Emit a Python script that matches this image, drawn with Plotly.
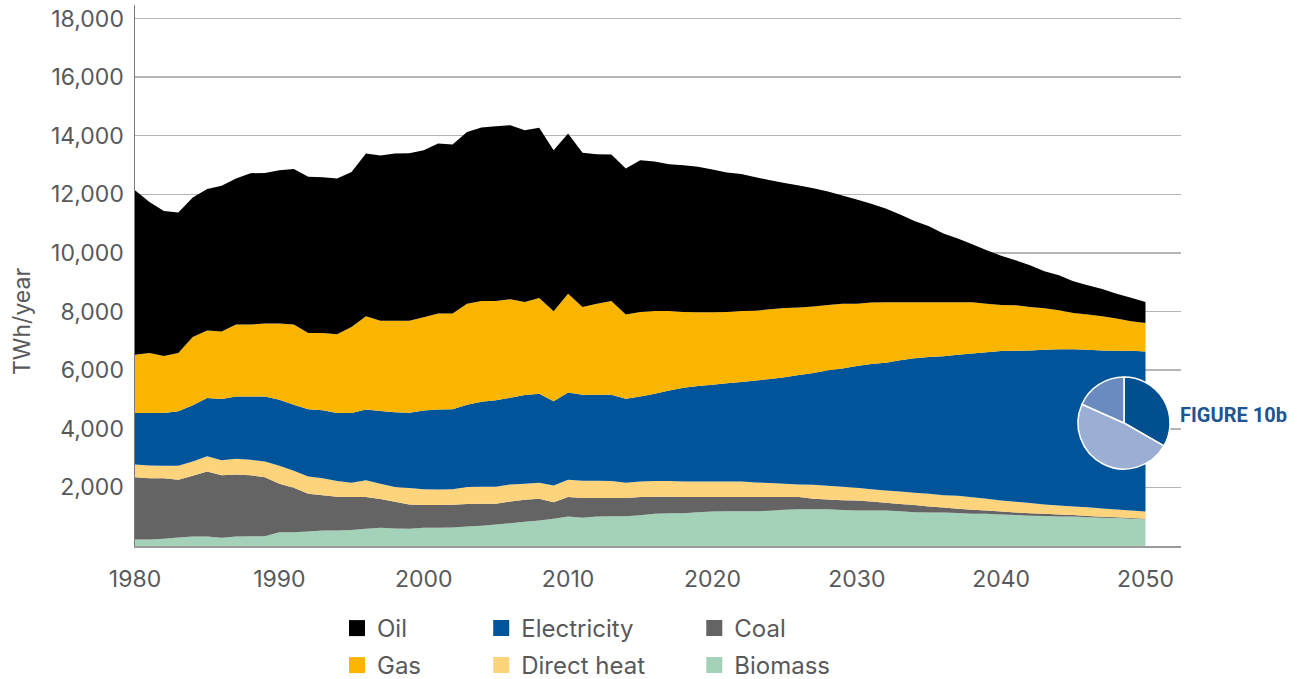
import plotly.graph_objects as go

years = list(range(1980, 2051))

biomass = [220, 220, 245, 290, 325, 325, 280, 325, 335, 335,
           470, 470, 495, 530, 530, 550, 585, 620, 600, 585,
           620, 620, 630, 665, 690, 735, 780, 825, 870, 930,
           1005, 960, 1005, 1015, 1015, 1050, 1100, 1120, 1120, 1155,
           1180, 1190, 1190, 1190, 1200, 1235, 1250, 1250, 1250, 1225,
           1210, 1210, 1210, 1190, 1155, 1145, 1140, 1130, 1100, 1100,
           1075, 1055, 1030, 1020, 1010, 1010, 985, 965, 955, 930,
           915]
coal = [2130, 2095, 2070, 1970, 2070, 2220, 2130, 2115, 2075, 2015,
        1655, 1515, 1285, 1205, 1150, 1120, 1085, 980, 910, 835,
        780, 780, 780, 765, 750, 705, 740, 750, 740, 565,
        665, 675, 630, 620, 620, 620, 580, 560, 550, 515,
        490, 480, 480, 480, 470, 435, 420, 360, 340, 340,
        345, 310, 265, 240, 240, 205, 170, 140, 135, 110,
        105, 90, 90, 80, 65, 45, 35, 35, 22, 25,
        15]
direct_heat = [435, 435, 425, 480, 490, 520, 520, 535, 530, 535,
               615, 580, 595, 580, 535, 490, 575, 525, 500, 555,
               540, 530, 530, 580, 580, 580, 580, 550, 550, 570,
               590, 590, 590, 580, 525, 535, 535, 535, 535, 535,
               535, 535, 535, 500, 480, 455, 430, 480, 465, 455,
               430, 420, 420, 430, 420, 430, 425, 445, 430, 400,
               375, 365, 345, 320, 310, 295, 305, 280, 268, 255,
               250]
electricity = [1750, 1785, 1795, 1855, 1915, 1985, 2085, 2130, 2165, 2220,
               2250, 2255, 2295, 2315, 2320, 2375, 2415, 2480, 2550, 2570,
               2685, 2730, 2730, 2810, 2905, 2950, 2960, 3025, 3035, 2870,
               2980, 2940, 2940, 2950, 2865, 2900, 2980, 3095, 3195, 3255,
               3300, 3345, 3390, 3480, 3545, 3630, 3735, 3810, 3940, 4040,
               4155, 4270, 4360, 4475, 4590, 4670, 4740, 4815, 4900, 5000,
               5100, 5155, 5210, 5280, 5325, 5360, 5375, 5395, 5420, 5455,
               5460]
gas = [1995, 2050, 1945, 1990, 2330, 2300, 2300, 2450, 2450, 2485,
       2600, 2735, 2600, 2640, 2690, 2940, 3180, 3085, 3130, 3145,
       3180, 3270, 3260, 3450, 3435, 3390, 3360, 3175, 3270, 3075,
       3370, 2990, 3105, 3195, 2870, 2880, 2825, 2710, 2585, 2515,
       2470, 2435, 2425, 2380, 2380, 2365, 2300, 2270, 2230, 2210,
       2130, 2095, 2060, 1980, 1910, 1865, 1840, 1785, 1750, 1660,
       1570, 1550, 1480, 1410, 1330, 1240, 1195, 1165, 1095, 1000,
       970]
oil = [5610, 5155, 4950, 4795, 4760, 4835, 4975, 4985, 5165, 5140,
       5230, 5305, 5330, 5315, 5315, 5290, 5555, 5635, 5705, 5710,
       5700, 5805, 5770, 5860, 5920, 5965, 5940, 5865, 5805, 5495,
       5465, 5260, 5100, 5000, 4985, 5180, 5100, 5010, 5010, 4965,
       4875, 4760, 4670, 4555, 4405, 4270, 4165, 4040, 3870, 3690,
       3550, 3370, 3200, 2995, 2775, 2595, 2345, 2175, 1980, 1820,
       1675, 1535, 1425, 1265, 1200, 1085, 1000, 930, 850, 810,
       715]

# stacking order bottom -> top
series_names = ["Biomass", "Coal", "Direct heat", "Electricity", "Gas", "Oil"]
series_values = [biomass, coal, direct_heat, electricity, gas, oil]
series_colors = ["#A4D2B8", "#646464", "#FDD37C", "#00559A", "#FAB500", "#000000"]

# legend placement (legend id per entry)
legend_ids = {"Oil": "legend", "Electricity": "legend2", "Coal": "legend3",
              "Gas": "legend4", "Direct heat": "legend5", "Biomass": "legend6"}

y_ticks = [2000, 4000, 6000, 8000, 10000, 12000, 14000, 16000, 18000]
x_ticks = [1980, 1990, 2000, 2010, 2020, 2030, 2040, 2050]

pie_labels = ["A", "B", "C"]
pie_values = [33.3, 48.4, 18.3]
pie_colors = ["#004F91", "#9BAED4", "#6A8BBF"]

FONT = "Inter"
TXT = "#58595B"

fig = go.Figure()

for name, vals, col in zip(series_names, series_values, series_colors):
    fig.add_trace(go.Scatter(
        x=years, y=vals, name=name, stackgroup="one", mode="none",
        fillcolor=col, line=dict(width=0), showlegend=False,
        hoverinfo="x+y+name"))

for name, col in zip(series_names, series_colors):
    fig.add_trace(go.Scatter(
        x=[None], y=[None], mode="markers", name=name,
        marker=dict(symbol="square", size=16, color=col),
        legend=legend_ids[name], showlegend=True))

fig.add_trace(go.Pie(
    labels=pie_labels, values=pie_values, sort=False, direction="clockwise",
    rotation=0, textinfo="none", showlegend=False, hoverinfo="skip",
    marker=dict(colors=pie_colors, line=dict(color="white", width=1.5)),
    domain=dict(x=[0.9015, 0.9895], y=[0.1423, 0.3124])))

leg_common = dict(font=dict(family=FONT, size=24, color=TXT),
                  bgcolor="rgba(0,0,0,0)", borderwidth=0,
                  xanchor="left", yanchor="top", orientation="v")
col_x = [0.1931, 0.3310, 0.5347]
row_y = [-0.1109, -0.1793]
legend_layout = {}
order = [["legend", "legend2", "legend3"], ["legend4", "legend5", "legend6"]]
for r, row in enumerate(order):
    for c, lid in enumerate(row):
        legend_layout[lid] = dict(x=col_x[c], y=row_y[r], **leg_common)

fig.update_layout(
    width=1306, height=679,
    margin=dict(l=135, r=125, t=5, b=133, autoexpand=False),
    paper_bgcolor="white", plot_bgcolor="white",
    font=dict(family=FONT, color=TXT),
    xaxis=dict(range=[1980, 2052.46], tickvals=x_ticks, showgrid=False,
               showline=True, linecolor="#9A9A9A", linewidth=2,
               ticks="", ticklabelstandoff=11, automargin=False,
               tickfont=dict(family=FONT, size=23, color=TXT), zeroline=False),
    yaxis=dict(range=[0, 18460], tickvals=y_ticks, tickformat=",",
               showgrid=True, gridcolor="#B5B5B5", gridwidth=1.5,
               showline=True, linecolor="#7A7A7A", linewidth=1.5,
               ticks="", ticklabelstandoff=5, zeroline=False, automargin=False,
               tickfont=dict(family=FONT, size=23, color=TXT)),
    annotations=[
        dict(text="TWh/year", textangle=-90, xref="paper", yref="paper",
             x=(22 - 135) / 1046, y=(546 - 322) / 541, showarrow=False,
             xanchor="center", yanchor="middle",
             font=dict(family=FONT, size=23, color=TXT)),
        dict(text="<b>FIGURE 10b</b>", xref="paper", yref="paper",
             x=(1178 - 135) / 1046, y=(546 - 415) / 541, showarrow=False,
             xanchor="left", yanchor="middle",
             font=dict(family="Roboto", size=20, color="#1D5494")),
    ],
    **legend_layout,
)

fig.write_html("out.html",
               config={"displayModeBar": False, "staticPlot": True},
               post_script="document.body.style.margin='0';"
                           "document.body.style.overflow='hidden';")
